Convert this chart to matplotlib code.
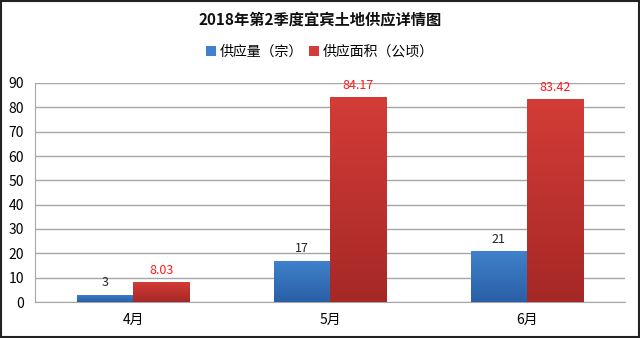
import matplotlib
matplotlib.use("Agg")
import matplotlib.pyplot as plt
import numpy as np
from matplotlib.colors import LinearSegmentedColormap
from matplotlib.patches import Rectangle, Patch

plt.rcParams['font.family'] = ['Noto Sans CJK SC', 'DejaVu Sans']

title = "2018年第2季度宜宾土地供应详情图"
categories = ["4月", "5月", "6月"]
series_names = ["供应量（宗）", "供应面积（公顷）"]
count_vals = [3, 17, 21]
area_vals = [8.03, 84.17, 83.42]
count_labels = ["3", "17", "21"]
area_labels = ["8.03", "84.17", "83.42"]
yticks = [0, 10, 20, 30, 40, 50, 60, 70, 80, 90]

blue_top, blue_bot = "#3f82cc", "#2a5fa6"
red_top, red_bot = "#d43c37", "#a52826"

fig = plt.figure(figsize=(6.4, 3.38), dpi=100)
ax = fig.add_axes([35 / 640, 1 - 302 / 338, 590 / 640, 219 / 338])

x = np.arange(len(categories))
w = 0.285


def gradient_bars(xs, vals, c_top, c_bot):
    cmap = LinearSegmentedColormap.from_list("g", [c_bot, c_top])
    bars = ax.bar(xs, vals, width=w, color="none", edgecolor="none", zorder=3)
    grad = np.linspace(0, 1, 256).reshape(-1, 1)
    for b in bars:
        x0, y0 = b.get_x(), b.get_y()
        bw, bh = b.get_width(), b.get_height()
        im = ax.imshow(grad, cmap=cmap, origin="lower", aspect="auto",
                       extent=(x0, x0 + bw, y0, y0 + bh), zorder=3)
        im.set_clip_path(b)
    return bars


gradient_bars(x - w / 2, count_vals, blue_top, blue_bot)
gradient_bars(x + w / 2, area_vals, red_top, red_bot)

for xi, v, t in zip(x, count_vals, count_labels):
    ax.text(xi - w / 2, v + 2.2, t, ha="center", va="bottom",
            fontsize=9, color="#222222", zorder=4)
for xi, v, t in zip(x, area_vals, area_labels):
    ax.text(xi + w / 2, v + 2.2, t, ha="center", va="bottom",
            fontsize=9, color="#ff1a1a", zorder=4)

ax.set_xlim(-0.5, len(categories) - 0.5)
ax.set_ylim(0, 90)
ax.set_yticks(yticks)
ax.set_xticks(x)
ax.set_xticklabels(categories, fontsize=10)
ax.tick_params(axis="y", labelsize=10, length=0, pad=8)
ax.tick_params(axis="x", length=0, pad=8)
ax.yaxis.grid(True, color="#a6a6a6", linewidth=1, zorder=0)
ax.set_axisbelow(True)
for s in ["top", "right"]:
    ax.spines[s].set_visible(False)
ax.spines["left"].set_color("#a6a6a6")
ax.spines["bottom"].set_color("#a6a6a6")

fig.text(0.5, 1 - 20 / 338, title, ha="center", va="center",
         fontsize=11, fontweight="bold", color="#111111")

handles = [Patch(facecolor=blue_top), Patch(facecolor=red_top)]
fig.legend(handles, series_names, loc="center", bbox_to_anchor=(0.5, 1 - 52 / 338),
           ncol=2, frameon=False, fontsize=10, handlelength=0.7, handleheight=0.7,
           handletextpad=0.3, columnspacing=0.4)

fig.patches.append(Rectangle((0.0015, 0.003), 0.997, 0.994, transform=fig.transFigure,
                             fill=False, edgecolor="#222222", linewidth=1.5))

fig.savefig("out.png", dpi=100)
